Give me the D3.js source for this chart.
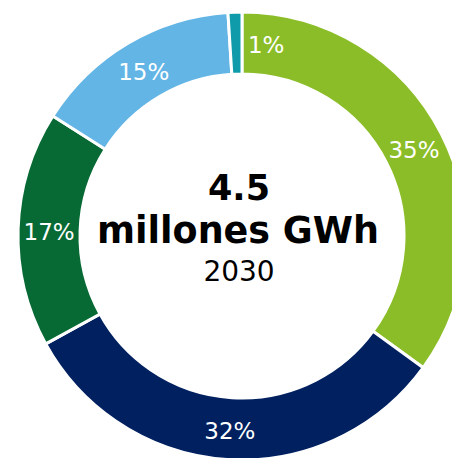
<!DOCTYPE html>
<html>
<head>
<meta charset="utf-8">
<script src="https://cdn.jsdelivr.net/npm/d3@7"></script>
<style>
  body { margin: 0; background: #fff; }
  svg { display: block; overflow: hidden; }
</style>
</head>
<body>
<div id="chart"></div>
<script>
// data, clockwise from 12 o'clock
var categories = ["A", "B", "C", "D", "E"];
var shares = [35, 32, 17, 15, 1];
var colors = ["#8bbd28", "#002060", "#076a35", "#63b5e5", "#0f9ba9"];
var center_lines = ["4.5", "millones GWh", "2030"];

var svg_width = 452;
var svg_height = 458;
var cx = 242;
var cy = 236;
var outer_r = 224;
var inner_r = 162;

var svg = d3.select("#chart").append("svg")
    .attr("width", svg_width)
    .attr("height", svg_height);

var chart_group = svg.append("g")
    .attr("transform", `translate(${cx}, ${cy})`);

var pie = d3.pie()
    .value(d => d.share)
    .sort(null);

var arc = d3.arc()
    .innerRadius(inner_r)
    .outerRadius(outer_r);

var data = categories.map((c, i) => ({name: c, share: shares[i], color: colors[i]}));
var arcs = pie(data);

// slices
chart_group.selectAll("path")
    .data(arcs)
    .enter()
    .append("path")
    .attr("d", arc)
    .attr("fill", d => d.data.color)
    .attr("stroke", "#fff")
    .attr("stroke-width", 3);

// percent labels, tiny slices get pushed to the right of the slice
chart_group.selectAll(".pct")
    .data(arcs)
    .enter()
    .append("text")
    .attr("class", "pct")
    .attr("x", d => d.data.share < 3 ? arc.centroid(d)[0] + 12 : arc.centroid(d)[0])
    .attr("y", d => arc.centroid(d)[1] + 2)
    .attr("text-anchor", d => d.data.share < 3 ? "start" : "middle")
    .attr("dominant-baseline", "central")
    .attr("fill", "#fff")
    .style("font-family", "'DejaVu Sans', Verdana, sans-serif")
    .style("font-size", "23px")
    .text(d => d.data.share + "%");

// text in the hole
var center_text = chart_group.append("text")
    .attr("text-anchor", "middle")
    .style("font-family", "'DejaVu Sans', Verdana, sans-serif")
    .attr("fill", "#000");

center_text.append("tspan")
    .attr("x", -3)
    .attr("y", -36)
    .style("font-size", "35px")
    .style("font-weight", "bold")
    .text(center_lines[0]);

center_text.append("tspan")
    .attr("x", -4)
    .attr("y", 7)
    .style("font-size", "36.5px")
    .style("font-weight", "bold")
    .text(center_lines[1]);

center_text.append("tspan")
    .attr("x", -3)
    .attr("y", 45)
    .style("font-size", "28px")
    .text(center_lines[2]);
</script>
</body>
</html>
